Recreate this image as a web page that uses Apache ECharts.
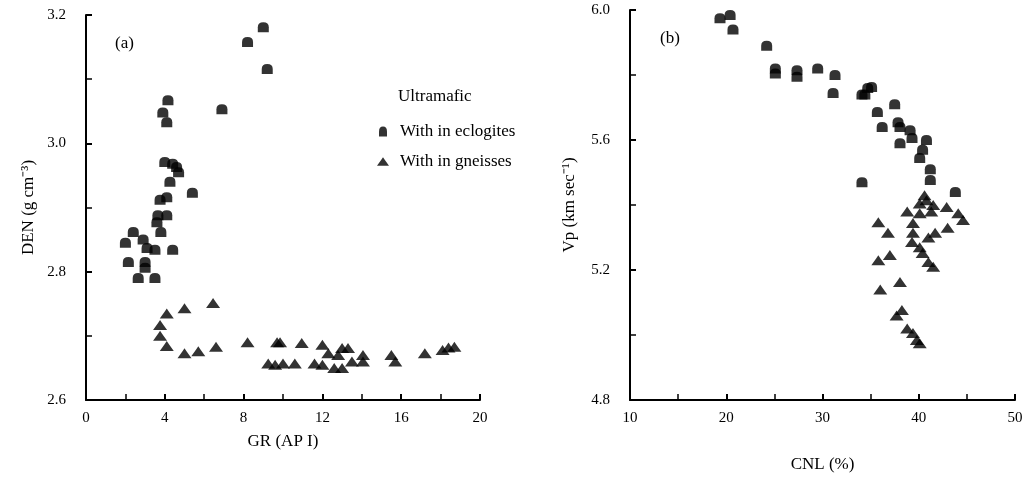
<!DOCTYPE html>
<html>
<head>
<meta charset="utf-8">
<script src="https://cdn.jsdelivr.net/npm/echarts@6/dist/echarts.min.js"></script>
<style>
  html, body { margin: 0; padding: 0; background: #fff; }
  #chart { width: 1029px; height: 479px; }
</style>
</head>
<body>
<div id="chart"></div>
<script>
// panel (a): GR (API) vs DEN (g/cm3)
const grEclogite = [9.0, 8.2, 9.2, 6.9, 4.16, 3.9, 4.1, 5.4, 4.0, 4.4, 4.6, 4.7, 4.26, 4.1, 3.76, 3.65, 4.1, 3.6, 3.8, 2.4, 2.0, 2.9, 3.1, 3.5, 4.4, 2.15, 3.0, 3.0, 2.65, 3.5];
const denEclogite = [3.181, 3.158, 3.116, 3.053, 3.067, 3.048, 3.033, 2.923, 2.971, 2.968, 2.963, 2.955, 2.94, 2.916, 2.912, 2.888, 2.888, 2.877, 2.862, 2.862, 2.845, 2.85, 2.837, 2.834, 2.834, 2.815, 2.815, 2.806, 2.79, 2.79];
const grGneiss = [4.1, 5.0, 6.45, 3.76, 3.76, 4.1, 5.0, 5.7, 6.6, 8.2, 9.7, 9.25, 9.6, 9.85, 10.95, 12.0, 13.0, 13.3, 14.06, 15.5, 17.2, 18.1, 18.7, 10.0, 10.6, 11.6, 12.0, 12.6, 13.0, 13.5, 14.06, 15.7, 12.3, 12.8, 18.4];
const denGneiss = [2.735, 2.743, 2.751, 2.717, 2.70, 2.684, 2.673, 2.676, 2.683, 2.69, 2.69, 2.657, 2.655, 2.69, 2.689, 2.686, 2.681, 2.681, 2.67, 2.67, 2.673, 2.678, 2.683, 2.657, 2.657, 2.657, 2.655, 2.65, 2.65, 2.66, 2.66, 2.66, 2.673, 2.67, 2.682];

// panel (b): CNL (%) vs Vp (km/s)
const cnlEclogite = [19.35, 20.4, 20.7, 24.2, 25.1, 25.1, 27.35, 27.35, 29.5, 31.3, 31.1, 34.1, 34.7, 35.1, 34.4, 35.7, 37.5, 36.2, 37.85, 38.05, 39.1, 39.3, 38.05, 40.8, 40.4, 40.1, 41.2, 41.2, 34.1, 43.8];
const vpEclogite = [5.975, 5.985, 5.94, 5.89, 5.82, 5.805, 5.815, 5.795, 5.82, 5.8, 5.745, 5.74, 5.76, 5.763, 5.74, 5.686, 5.71, 5.64, 5.655, 5.64, 5.63, 5.606, 5.59, 5.6, 5.57, 5.545, 5.51, 5.477, 5.47, 5.44];
const cnlGneiss = [40.8, 40.1, 41.5, 42.9, 38.8, 40.1, 44.1, 44.6, 39.4, 35.8, 43.0, 39.4, 41.7, 36.8, 41.0, 39.3, 40.1, 40.4, 41.0, 41.5, 35.8, 37.0, 38.05, 36.0, 38.25, 37.7, 38.8, 39.4, 39.8, 40.1, 40.6, 41.3];
const vpGneiss = [5.415, 5.405, 5.4, 5.394, 5.38, 5.375, 5.375, 5.354, 5.345, 5.347, 5.33, 5.315, 5.315, 5.315, 5.3, 5.286, 5.27, 5.252, 5.225, 5.21, 5.23, 5.246, 5.163, 5.14, 5.077, 5.06, 5.02, 5.006, 4.985, 4.975, 5.43, 5.38];

const denTicks = { min: 2.6, max: 3.2, interval: 0.2 };
const grTicks = { min: 0, max: 20, interval: 4 };
const vpTicks = { min: 4.8, max: 6.0, interval: 0.4 };
const cnlTicks = { min: 10, max: 50, interval: 10 };

const eclogiteSymbol = 'path://M2,10 L2,5 Q2,0 6,0 Q10,0 10,5 L10,10 Z';
const gneissSymbol = 'path://M0,10 L5,3 L7,0 L9,3 L14,10 Z';

function pairs(xs, ys) {
  return xs.map((x, i) => [x, ys[i]]);
}

const font = 'Liberation Serif';

function valueAxis(ticks, gridIndex, name, extra) {
  return Object.assign({
    type: 'value',
    gridIndex: gridIndex,
    min: ticks.min,
    max: ticks.max,
    interval: ticks.interval,
    name: name,
    nameLocation: 'middle',
    nameTextStyle: { fontFamily: font, fontSize: 17, color: '#000' },
    axisLine: { show: true, lineStyle: { color: '#000', width: 2 } },
    axisTick: { show: true, inside: true, length: 6, lineStyle: { color: '#000', width: 2 } },
    minorTick: { show: true, splitNumber: 2, length: 6, lineStyle: { color: '#000', width: 1.5 } },
    splitLine: { show: false }
  }, extra);
}

function tickLabel(margin, fmt) {
  return { fontFamily: font, fontSize: 15, color: '#000', margin: margin, formatter: fmt };
}

const chart = echarts.init(document.getElementById('chart'));
chart.setOption({
  animation: false,
  backgroundColor: '#fff',
  grid: [
    { left: 86, right: 549, top: 15, bottom: 79 },
    { left: 630, right: 14, top: 10, bottom: 79 }
  ],
  xAxis: [
    valueAxis(grTicks, 0, 'GR (AP I)', { nameGap: 33, axisLabel: tickLabel(11, v => String(v)) }),
    valueAxis(cnlTicks, 1, 'CNL (%)', { nameGap: 56, axisLabel: tickLabel(11, v => String(v)) })
  ],
  yAxis: [
    valueAxis(denTicks, 0, 'DEN (g cm\u207B\u00B3)', { nameGap: 49, axisLabel: tickLabel(20, v => v.toFixed(1)) }),
    valueAxis(vpTicks, 1, 'Vp (km sec\u207B\u00B9)', { nameGap: 52, axisLabel: tickLabel(20, v => v.toFixed(1)) })
  ],
  legend: {
    orient: 'vertical',
    left: 372,
    top: 118,
    itemGap: 13,
    itemWidth: 12,
    itemHeight: 10,
    textStyle: { fontFamily: font, fontSize: 17, color: '#000', padding: [0, 0, 0, 6] },
    data: [
      { name: 'With in eclogites', icon: eclogiteSymbol },
      { name: 'With in gneisses', icon: gneissSymbol }
    ]
  },
  graphic: [
    { type: 'text', left: 398, top: 88, style: { text: 'Ultramafic', font: '17px "Liberation Serif"', fill: '#000' } },
    { type: 'text', left: 115, top: 35, style: { text: '(a)', font: '17px "Liberation Serif"', fill: '#000' } },
    { type: 'text', left: 660, top: 30, style: { text: '(b)', font: '17px "Liberation Serif"', fill: '#000' } }
  ],
  series: [
    { name: 'With in eclogites', type: 'scatter', xAxisIndex: 0, yAxisIndex: 0, symbol: eclogiteSymbol, symbolSize: [11, 10], itemStyle: { color: '#000' }, data: pairs(grEclogite, denEclogite) },
    { name: 'With in gneisses', type: 'scatter', xAxisIndex: 0, yAxisIndex: 0, symbol: gneissSymbol, symbolSize: [14, 10], itemStyle: { color: '#000' }, data: pairs(grGneiss, denGneiss) },
    { name: 'With in eclogites', type: 'scatter', xAxisIndex: 1, yAxisIndex: 1, symbol: eclogiteSymbol, symbolSize: [11, 10], itemStyle: { color: '#000' }, data: pairs(cnlEclogite, vpEclogite) },
    { name: 'With in gneisses', type: 'scatter', xAxisIndex: 1, yAxisIndex: 1, symbol: gneissSymbol, symbolSize: [14, 10], itemStyle: { color: '#000' }, data: pairs(cnlGneiss, vpGneiss) }
  ]
});
</script>
</body>
</html>
